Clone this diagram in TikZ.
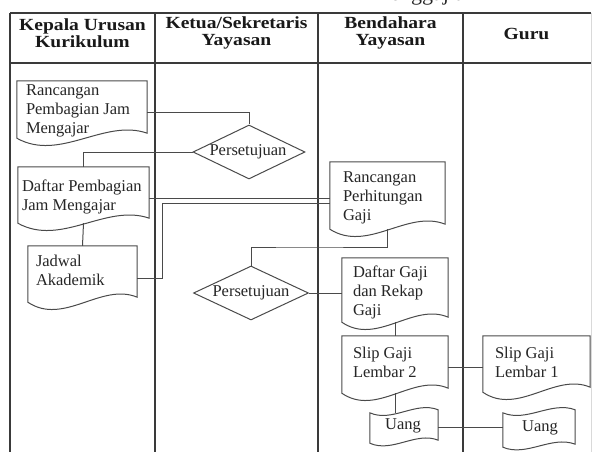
\documentclass[tikz,border=0pt]{standalone}
\usepackage{fontspec}
\setmainfont{Liberation Serif}
\newfontfamily\headfont[FakeStretch=1.15]{Liberation Serif}
\usetikzlibrary{shapes.geometric,calc}

\definecolor{gridc}{HTML}{3A3A3A}
\definecolor{linec}{HTML}{4A4A4A}

% document symbol: straight top and sides, wavy bottom (#2 = width in pt)
\newcommand{\docoutline}[2]{%
  \draw[shapeline] (#1.north west) -- (#1.south west)
    .. controls +({0.33*#2pt},-24pt) and +({-0.33*#2pt},15pt) .. ($(#1.south east)+(0,5pt)$)
    -- (#1.north east) -- cycle;}
% punched tape symbol: wavy top and bottom (#2 = width in pt)
\newcommand{\tapeoutline}[2]{%
  \draw[shapeline] (#1.north west)
    .. controls +({0.33*#2pt},-10pt) and +({-0.33*#2pt},9pt) .. ($(#1.north east)+(0,3pt)$)
    -- ($(#1.south east)+(0,3pt)$)
    .. controls +({-0.33*#2pt},9pt) and +({0.33*#2pt},-10pt) .. (#1.south west) -- cycle;}

\tikzset{
  gridline/.style={draw=gridc, line width=1.5pt},
  shapeline/.style={draw=linec, line width=1pt},
  conn/.style={draw=linec, line width=1pt},
  box/.style={rectangle, draw=none, inner sep=0pt},
  decision/.style={diamond, shapeline, inner sep=0pt},
  txt/.style={align=left, inner sep=0pt, text=black!85, font=\fontsize{16.5}{19}\selectfont},
  ctxt/.style={align=center, inner sep=0pt, text=black!85, font=\fontsize{16.5}{19}\selectfont},
  head/.style={align=center, inner sep=0pt, text=black!90, font=\headfont\bfseries\fontsize{17}{17}\selectfont},
}

\begin{document}
\begin{tikzpicture}[x=1pt, y=-1pt]
\useasboundingbox (0,0) rectangle (595,452);
\clip (0,0) rectangle (595,452);
\fill[white] (0,0) rectangle (595,452);

% caption above the table, mostly outside the frame
\node[anchor=base west, inner sep=0pt, text=black!85, font=\fontsize{22}{22}\selectfont] (cap) at (378,0.5) {Penggajian};

% swimlane table
\draw[gridline] (10,13) -- (591,13);
\draw[gridline] (10,63) -- (591,63);
\draw[gridline] (10,13) -- (10,452);
\draw[gridline] (155,13) -- (155,452);
\draw[gridline] (318,13) -- (318,452);
\draw[gridline] (463,13) -- (463,452);
\draw[draw=gray!30, line width=1pt] (591,13) -- (591,452);

\node[head] (h1) at (82.5,33) {Kepala Urusan\\Kurikulum};
\node[head] (h2) at (236.5,33) {Ketua/Sekretaris\\Yayasan};
\node[head] (h3) at (390.5,33) {Bendahara\\Yayasan};
\node[head] (h4) at (526.5,34) {Guru};

% documents
\node[box, minimum width=130pt, minimum height=57pt] (d1) at (82,109.5) {};
\node[box, minimum width=131pt, minimum height=56pt] (d2) at (83.5,195) {};
\node[box, minimum width=109pt, minimum height=56pt] (jad) at (82.5,274) {};
\node[box, minimum width=115pt, minimum height=67pt] (rpg) at (387.5,195.5) {};
\node[box, minimum width=106pt, minimum height=64pt] (dg) at (395,290) {};
\node[box, minimum width=106pt, minimum height=57pt] (sg2) at (395,364.5) {};
\node[box, minimum width=107pt, minimum height=56pt] (sg1) at (536.5,364) {};
% paper tape
\node[box, minimum width=68pt, minimum height=30pt] (u1) at (404,428) {};
\node[box, minimum width=72pt, minimum height=34pt] (u2) at (539,430) {};
% decisions
\node[decision, minimum width=112pt, minimum height=54pt] (dia1) at (249,152) {};
\node[decision, minimum width=115pt, minimum height=54pt] (dia2) at (251,293) {};

% connectors
\coordinate (a1) at ([yshift=-3.5pt]d1.east);
\draw[conn] (a1) -| (dia1.north);
\draw[conn] (dia1.west) -| (d2.north);
\coordinate (a2) at ([yshift=-3pt]d2.east);
\draw[conn] (a2) -- (a2 -| rpg.west);
\draw[conn] (d2.south) -- (jad.north);
\coordinate (a3) at ([yshift=-4pt]jad.east);
\coordinate (a4) at ([yshift=-7.5pt]rpg.west);
\draw[conn] (a3) -- ++(25pt,0) |- (a4);
\coordinate (bend) at (300,247);
\draw[conn] (dia2.north) |- (bend) -| (rpg.south);
\draw[conn] (dia2.east) -- (dia2.east -| dg.west);
\draw[conn] (dg.south) -- (sg2.north);
\coordinate (a5) at ([yshift=-2.5pt]sg2.east);
\draw[conn] (a5) -- (a5 -| sg1.west);
\draw[conn] (sg2.south) -- (sg2.south |- u1.north);
\coordinate (a6) at ([yshift=1pt]u1.east);
\draw[conn] (a6) -- (a6 -| u2.west);

% symbol outlines
\docoutline{d1}{130}
\docoutline{d2}{131}
\docoutline{jad}{109}
\docoutline{rpg}{115}
\docoutline{dg}{106}
\docoutline{sg2}{106}
\docoutline{sg1}{107}
\tapeoutline{u1}{68}
\tapeoutline{u2}{72}

% labels
\node[txt, anchor=west] (d1t) at ([xshift=9pt,yshift=-1.5pt]d1.west) {Rancangan\\Pembagian Jam\\Mengajar};
\node[txt, anchor=west] (d2t) at ([xshift=4pt,yshift=-2pt]d2.west) {Daftar Pembagian\\Jam Mengajar};
\node[txt, anchor=west] (jadt) at ([xshift=8pt,yshift=4pt]jad.west) {Jadwal\\Akademik};
\node[txt, anchor=west] (rpgt) at ([xshift=13pt,yshift=-2.5pt]rpg.west) {Rancangan\\Perhitungan\\Gaji};
\node[txt, anchor=west] (dgt) at ([xshift=11pt,yshift=-2.5pt]dg.west) {Daftar Gaji\\dan Rekap\\Gaji};
\node[txt, anchor=west] (sg2t) at ([xshift=11pt,yshift=2.5pt]sg2.west) {Slip Gaji\\Lembar 2};
\node[txt, anchor=west] (sg1t) at ([xshift=12pt,yshift=2pt]sg1.west) {Slip Gaji\\Lembar 1};
\node[ctxt] (u1t) at ([xshift=-1pt,yshift=2pt]u1.center) {Uang};
\node[ctxt] (u2t) at ([xshift=1pt,yshift=2pt]u2.center) {Uang};
\node[ctxt] (dia1t) at ([xshift=-1pt]dia1.center) {Persetujuan};
\node[ctxt] (dia2t) at (dia2.center) {Persetujuan};
\end{tikzpicture}
\end{document}
